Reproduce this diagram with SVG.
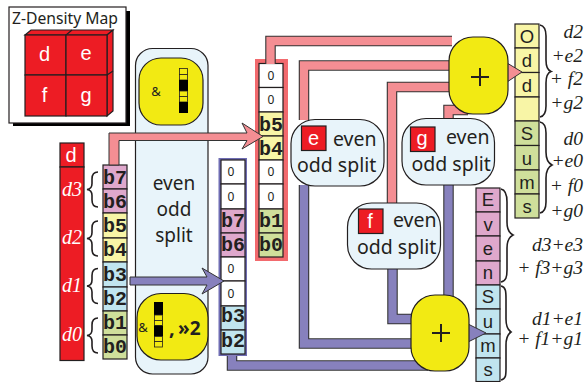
<svg xmlns="http://www.w3.org/2000/svg" width="586" height="382" viewBox="0 0 586 382">
<style>
.s{font-family:"Noto Sans","Open Sans",sans-serif;fill:#231f20}
.w{font-family:"Liberation Sans",sans-serif;fill:#fff;text-anchor:middle;font-size:20px}
.b{font-family:"Liberation Mono",monospace;font-weight:bold;font-size:20px;fill:#231f20;text-anchor:middle}
.z{font-family:"Noto Sans",sans-serif;font-size:12px;fill:#231f20;text-anchor:middle}
.c{font-family:"Liberation Sans",sans-serif;font-size:18.500px;fill:#231f20;text-anchor:middle}
.i{font-family:"Liberation Serif",serif;font-style:italic;font-size:19.500px;fill:#231f20;text-anchor:end}
.n{font-family:"Liberation Serif",serif;font-style:italic;font-size:20px;fill:#fff;text-anchor:middle}
.cell{stroke:#231f20;stroke-width:1.2}
.lb{fill:none;stroke:#231f20;stroke-width:1.6}
.oP{fill:none;stroke:#333;stroke-width:10.500}
.iP{fill:none;stroke:#f48e93;stroke-width:8.300}
.oV{fill:none;stroke:#333;stroke-width:10.500}
.iV{fill:none;stroke:#8781bd;stroke-width:8.300}
.box{fill:#e8f4fa;stroke:#231f20;stroke-width:1.2}
.yb{fill:#f2ea13;stroke:#231f20;stroke-width:1.2}
.red{fill:#ed1c24;stroke:#231f20;stroke-width:1.2}
.pk{fill:#dfa8cc}.ye{fill:#f8f5a6}.cy{fill:#c1e5ef}.gr{fill:#cfdf9b}.wh{fill:#fff}
.my{fill:#f2ea13;stroke:#231f20;stroke-width:.8}
.mk{fill:#000}
</style>
<defs>
<path id="lb" class="lb" d="M11,-17.5 C6,-17.5 5,-14.5 5,-10.5 V-6 C5,-3 4,-0.5 0,0 C4,0.5 5,3 5,6 V10.5 C5,14.5 6,17.5 11,17.5"/>
</defs>

<g id="map">
<rect x="13" y="11" width="117" height="115" fill="#000"/>
<rect x="9" y="7" width="117" height="116" fill="#fff" stroke="#231f20" stroke-width="1.2"/>
<text class="s" x="12" y="24" font-size="15.700">Z-Density Map</text>
<path class="red" d="M25,35 L31,30 H113 L107,35 Z"/>
<path class="red" d="M107,35 L113,30 V111 L107,116 Z"/>
<path fill="none" stroke="#231f20" stroke-width="1.2" d="M66,35 L72,30 M107,75 L113,71"/>
<rect class="red" x="25" y="35" width="41" height="40"/><rect class="red" x="66" y="35" width="41" height="40"/>
<rect class="red" x="25" y="75" width="41" height="41"/><rect class="red" x="66" y="75" width="41" height="41"/>
<text class="w" x="44.500" y="61">d</text><text class="w" x="86" y="60">e</text>
<text class="w" x="44.500" y="102">f</text><text class="w" x="86" y="102">g</text>
</g>

<g id="d-column">
<rect class="red" x="60" y="143" width="24" height="24"/>
<rect class="red" x="60" y="167" width="24" height="193.500"/>
<text class="w" x="71" y="162">d</text>
<text class="n" x="72" y="196">d3</text><text class="n" x="72" y="244">d2</text>
<text class="n" x="72" y="292">d1</text><text class="n" x="72" y="341">d0</text>
</g>

<g id="braces-left">
<use href="#lb" x="87" y="189.500"/><use href="#lb" x="87" y="238.500"/>
<use href="#lb" x="87" y="286"/><use href="#lb" x="87" y="335.500"/>
</g>

<g id="source-bits">
<rect class="cell pk" x="103" y="165" width="24" height="24"/><rect class="cell pk" x="103" y="189" width="24" height="24"/>
<rect class="cell ye" x="103" y="213" width="24" height="25"/><rect class="cell ye" x="103" y="238" width="24" height="24"/>
<rect class="cell cy" x="103" y="262" width="24" height="25"/><rect class="cell cy" x="103" y="287" width="24" height="24"/>
<rect class="cell gr" x="103" y="311" width="24" height="24"/><rect class="cell gr" x="103" y="335" width="24" height="24"/>
<text class="b" x="115" y="184">b7</text><text class="b" x="115" y="208">b6</text>
<text class="b" x="115" y="232">b5</text><text class="b" x="115" y="256">b4</text>
<text class="b" x="115" y="281">b3</text><text class="b" x="115" y="305">b2</text>
<text class="b" x="115" y="329">b1</text><text class="b" x="115" y="353">b0</text>
</g>

<g id="split-panel">
<rect class="box" x="135.500" y="48.500" width="72.500" height="325.500" rx="17"/>
<text class="s" x="174" y="190" font-size="19" text-anchor="middle">even</text>
<text class="s" x="174" y="216" font-size="19" text-anchor="middle">odd</text>
<text class="s" x="174" y="242" font-size="19" text-anchor="middle">split</text>
</g>

<g id="mask-top">
<rect class="yb" x="139" y="58" width="64" height="67" rx="22"/>
<text class="s" x="156" y="96" font-size="13" text-anchor="middle">&amp;</text>
<rect class="my" x="179.500" y="68.500" width="8" height="6"/><rect class="my" x="179.500" y="74.500" width="8" height="5.500"/>
<rect class="mk" x="179" y="80" width="9" height="11"/>
<rect class="my" x="179.500" y="91" width="8" height="5.500"/><rect class="my" x="179.500" y="96.500" width="8" height="5.500"/>
<rect class="mk" x="179" y="102" width="9" height="11"/>
</g>

<g id="mask-bottom">
<rect class="yb" x="137" y="293.500" width="71" height="66.500" rx="24"/>
<text class="s" x="143" y="332" font-size="13" text-anchor="middle">&amp;</text>
<rect class="mk" x="154" y="302" width="9" height="13"/>
<rect class="my" x="154.500" y="315" width="8" height="5.500"/><rect class="my" x="154.500" y="320.500" width="8" height="5"/>
<rect class="mk" x="154" y="325.500" width="9" height="11"/>
<rect class="my" x="154.500" y="336.500" width="8" height="5"/><rect class="my" x="154.500" y="341.500" width="8" height="5.500"/>
<text x="169" y="335" font-family="Noto Sans,sans-serif" font-size="20" font-weight="bold" fill="#231f20">,</text>
<text x="178" y="335" font-family="Noto Sans,sans-serif" font-size="19" font-weight="bold" fill="#231f20">»2</text>
</g>

<g id="column-blue">
<rect x="218.500" y="158" width="28.500" height="198" fill="#6f6db3"/>
<rect class="cell wh" x="221" y="160" width="24" height="24"/><rect class="cell wh" x="221" y="184" width="24" height="25"/>
<rect class="cell pk" x="221" y="209" width="24" height="24"/><rect class="cell pk" x="221" y="233" width="24" height="24"/>
<rect class="cell wh" x="221" y="257" width="24" height="24"/><rect class="cell wh" x="221" y="281" width="24" height="25"/>
<rect class="cell cy" x="221" y="306" width="24" height="24"/><rect class="cell cy" x="221" y="330" width="24" height="24"/>
<text class="z" x="231" y="176">0</text><text class="z" x="231" y="201">0</text>
<text class="b" x="233" y="227">b7</text><text class="b" x="233" y="251">b6</text>
<text class="z" x="231" y="273">0</text><text class="z" x="231" y="298">0</text>
<text class="b" x="233" y="322">b3</text><text class="b" x="233" y="347">b2</text>
</g>

<g id="column-red">
<rect x="255" y="59" width="33" height="202" fill="#f26a6e"/>
<rect class="cell wh" x="259" y="63.500" width="24" height="24"/><rect class="cell wh" x="259" y="87.500" width="24" height="24.500"/>
<rect class="cell ye" x="259" y="112" width="24" height="24"/><rect class="cell ye" x="259" y="136" width="24" height="24"/>
<rect class="cell wh" x="259" y="160" width="24" height="24"/><rect class="cell wh" x="259" y="184" width="24" height="25"/>
<rect class="cell gr" x="259" y="209" width="24" height="24"/><rect class="cell gr" x="259" y="233" width="24" height="24"/>
<text class="z" x="271" y="80">0</text><text class="z" x="271" y="104">0</text>
<text class="b" x="271" y="131">b5</text><text class="b" x="271" y="155">b4</text>
<text class="z" x="271" y="176">0</text><text class="z" x="271" y="201">0</text>
<text class="b" x="271" y="227">b1</text><text class="b" x="271" y="251">b0</text>
</g>

<g id="column-odd">
<rect class="cell ye" x="515" y="24" width="24" height="24"/><rect class="cell ye" x="515" y="48" width="24" height="24.500"/>
<rect class="cell ye" x="515" y="72.500" width="24" height="24.500"/><rect class="cell ye" x="515" y="97" width="24" height="24"/>
<rect class="cell gr" x="515" y="121" width="24" height="24.500"/><rect class="cell gr" x="515" y="145.500" width="24" height="24.500"/>
<rect class="cell gr" x="515" y="170" width="24" height="24"/><rect class="cell gr" x="515" y="194" width="24" height="24"/>
<text class="c" x="527" y="42.500">O</text><text class="c" x="527" y="67">d</text><text class="c" x="527" y="91.500">d</text>
<text class="c" x="527" y="140">S</text><text class="c" x="527" y="165">u</text><text class="c" x="527" y="189">m</text><text class="c" x="527" y="213">s</text>
</g>

<g id="column-even">
<rect class="cell pk" x="476" y="188" width="24" height="24"/><rect class="cell pk" x="476" y="212" width="24" height="24"/>
<rect class="cell pk" x="476" y="236" width="24" height="25"/><rect class="cell pk" x="476" y="261" width="24" height="24"/>
<rect class="cell cy" x="476" y="285" width="24" height="24"/><rect class="cell cy" x="476" y="309" width="24" height="25"/>
<rect class="cell cy" x="476" y="334" width="24" height="24"/><rect class="cell cy" x="476" y="358" width="24" height="23.500"/>
<text class="c" x="488" y="206">E</text><text class="c" x="488" y="231">v</text><text class="c" x="488" y="255">e</text><text class="c" x="488" y="279">n</text>
<text class="c" x="488" y="303">S</text><text class="c" x="488" y="328">u</text><text class="c" x="488" y="352">m</text><text class="c" x="488" y="376">s</text>
</g>

<g id="connectors">
<path class="oP" d="M270.500,64 V41 H452"/><path class="iP" d="M270.500,64 V41 H452"/>
<path class="oP" d="M304,120 V65.500 H452"/><path class="iP" d="M304,120 V65.500 H452"/>
<path class="oP" d="M392,204 V87 H452"/><path class="iP" d="M392,204 V87 H452"/>
<path class="oP" d="M448.500,119 V110 H468"/><path class="iP" d="M448.500,119 V110 H468"/>
<path class="oV" d="M304,185 V343.500 H414"/><path class="iV" d="M304,185 V343.500 H414"/>
<path class="oV" d="M232,356 V365.500 H428"/><path class="iV" d="M232,355 V365.500 H428"/>
<path class="oV" d="M392.500,268 V319 H414"/><path class="iV" d="M392.500,268 V319 H414"/>
<path class="oV" d="M448.500,184 V298"/><path class="iV" d="M448.500,184 V298"/>
<path fill="#f48e93" stroke="#333" stroke-width="1" d="M109,165 V133 H247 L242,123 L263,136.500 L242,149 L247,140.500 H119 V165 Z"/>
<path fill="#8781bd" stroke="#333" stroke-width="1" d="M130,277 H207 L202,268 L224,281 L202,294 L207,285 H130 Z"/>
<path fill="#f48e93" stroke="#333" stroke-width="1" d="M507,63 L522,72 L507,82 Z"/>
<path fill="#8781bd" stroke="#333" stroke-width="1" d="M468,324 L486,333 L468,342 Z"/>
</g>

<g id="split-e">
<rect class="box" x="291" y="119.500" width="93" height="66.500" rx="24"/>
<rect class="red" x="301.500" y="126" width="24.500" height="24.500"/>
<text class="w" x="313.500" y="145">e</text>
<text class="s" x="333" y="145.500" font-size="19.500">even</text>
<text class="s" x="297" y="172" font-size="19.500">odd split</text>
</g>
<g id="split-g">
<rect class="box" x="402" y="118.500" width="92.500" height="66.500" rx="24"/>
<rect class="red" x="410.500" y="127" width="24.500" height="24.500"/>
<text class="w" x="422" y="145">g</text>
<text class="s" x="446" y="144" font-size="19.500">even</text>
<text class="s" x="411.500" y="171" font-size="19.500">odd split</text>
</g>
<g id="split-f">
<rect class="box" x="347.500" y="203" width="93" height="66" rx="24"/>
<rect class="red" x="358.500" y="209" width="24.500" height="24.500"/>
<text class="w" x="370" y="228">f</text>
<text class="s" x="393" y="227" font-size="19.500">even</text>
<text class="s" x="357" y="253.500" font-size="19.500">odd split</text>
</g>
<g id="adder-top">
<rect class="yb" x="449" y="37" width="59" height="77" rx="24"/>
<path d="M471,77 H489 M480,68 V86" stroke="#231f20" stroke-width="2" fill="none"/>
</g>
<g id="adder-bottom">
<rect class="yb" x="411" y="295" width="58" height="76" rx="24"/>
<path d="M432,333 H450 M441,324 V342" stroke="#231f20" stroke-width="2" fill="none"/>
</g>

<g id="braces-right" fill="none" stroke="#231f20" stroke-width="1.600">
<path d="M540,25 C545,26 546,30 546,36 V60 C546,66 547,70 551,71.500 C547,73 546,77 546,83 V106 C546,112 545,116 540,117"/>
<path d="M540,122 C545,123 546,127 546,133 V152 C546,159 548,163 552,165 C548,167 546,171 546,178 V202 C546,208 545,212 540,213"/>
<path d="M501,189 C506,190 507,195 507,202 V222 C507,229 509,233 513,235 C509,237 507,241 507,248 V270 C507,277 506,281 501,282"/>
<path d="M501,286 C506,287 506,292 506,299 V319 C506,326 508,330 511,332 C508,334 506,338 506,345 V368 C506,375 506,379 501,380"/>
</g>

<g id="labels-right">
<text class="i" x="583" y="38">d2</text><text class="i" x="583" y="62">+e2</text>
<text class="i" x="583" y="85">+ f2</text><text class="i" x="583" y="109">+g2</text>
<text class="i" x="583" y="145">d0</text><text class="i" x="583" y="167">+e0</text>
<text class="i" x="583" y="192">+ f0</text><text class="i" x="583" y="217">+g0</text>
<text class="i" x="583" y="251">d3+e3</text><text class="i" x="583" y="274">+ f3+g3</text>
<text class="i" x="583" y="325">d1+e1</text><text class="i" x="583" y="345">+ f1+g1</text>
</g>
</svg>
